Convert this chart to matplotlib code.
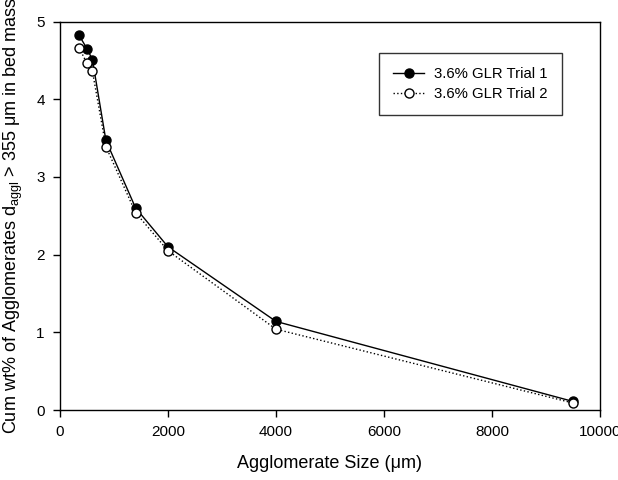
import matplotlib
matplotlib.use("Agg")
import matplotlib.pyplot as plt

plt.rcParams['font.family'] = ['Liberation Sans', 'DejaVu Sans']
plt.rcParams['mathtext.fontset'] = 'custom'
plt.rcParams['mathtext.rm'] = 'Liberation Sans'
plt.rcParams['mathtext.it'] = 'Liberation Sans'

size_um = [355, 500, 600, 850, 1400, 2000, 4000, 9500]
trial1 = [4.82, 4.65, 4.51, 3.47, 2.60, 2.10, 1.14, 0.11]
trial2 = [4.66, 4.46, 4.36, 3.39, 2.54, 2.05, 1.04, 0.09]
labels = ["3.6% GLR Trial 1", "3.6% GLR Trial 2"]
xticks = [0, 2000, 4000, 6000, 8000, 10000]
yticks = [0, 1, 2, 3, 4, 5]

fig = plt.figure(figsize=(6.18, 4.8), dpi=100)
ax = fig.add_axes([60/618, 70/480, 540/618, 388.5/480])

ax.plot(size_um, trial1, '-', color='black', lw=1.0, marker='o', ms=6.5,
        mfc='black', mec='black', label=labels[0])
ax.plot(size_um, trial2, ':', color='black', lw=1.0, marker='o', ms=6.5,
        mfc='white', mec='black', label=labels[1])

ax.set_xlim(0, 10000)
ax.set_ylim(0, 5)
ax.set_xticks(xticks)
ax.set_yticks(yticks)
ax.tick_params(direction='out', length=5, width=1, labelsize=11, pad=6)
for s in ax.spines.values():
    s.set_linewidth(1)

ax.set_xlabel("Agglomerate Size (μm)", fontsize=13, labelpad=11)
ax.set_ylabel("Cum wt% of Agglomerates d$_{\\mathrm{aggl}}$ > 355 μm in bed mass",
              fontsize=13, labelpad=8)

leg = ax.legend(loc='upper left', bbox_to_anchor=((379-60)/540, (410-53)/388.5),
                frameon=True, fancybox=False, edgecolor='black', fontsize=10.7,
                handlelength=2.1, borderpad=0.95, labelspacing=0.4,
                handletextpad=0.65, borderaxespad=0)
leg.get_frame().set_linewidth(1)

fig.savefig("out.png", dpi=100)
